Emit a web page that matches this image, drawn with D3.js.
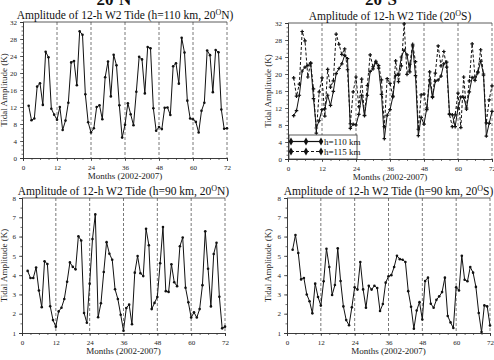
<!DOCTYPE html>
<html><head><meta charset="utf-8">
<script src="https://cdn.jsdelivr.net/npm/d3@7"></script>
<style>
body{margin:0;background:#fff;}
svg{display:block;font-family:"Liberation Serif","DejaVu Serif",serif;}
</style></head>
<body><svg id="c" width="494" height="360"></svg>
<script>
// months 2..72
const months = d3.range(2, 73);
const n110N = [12.3,8.9,9.3,16.8,17.6,12.5,25.0,23.7,11.6,10.2,9.0,12.0,6.6,8.8,13.0,22.5,22.8,17.1,29.8,29.0,15.0,8.4,6.0,7.0,12.0,12.4,9.1,19.0,22.7,14.5,24.3,21.8,12.4,4.8,7.8,12.9,10.3,7.7,15.6,23.8,23.2,15.2,26.1,25.8,11.7,6.4,7.3,6.8,11.8,11.9,10.1,21.6,22.3,17.5,28.3,24.8,13.5,9.3,9.1,8.5,6.0,11.1,13.0,25.3,24.2,15.5,25.4,24.9,11.4,6.9,7.0];
const s110S = [10.2,11.4,15.0,20.7,21.6,22.0,22.5,14.2,7.3,9.0,11.6,11.8,15.0,12.6,15.9,20.1,21.3,22.4,24.4,23.6,7.2,8.2,8.0,10.5,15.0,10.2,15.0,20.6,21.2,22.8,21.4,15.2,4.8,10.3,11.6,14.6,19.7,19.8,24.0,25.6,24.5,20.5,26.6,19.6,5.5,9.8,8.2,12.0,18.6,14.5,18.3,18.6,19.5,22.4,22.8,10.6,10.4,7.6,12.0,14.6,14.5,12.0,15.8,19.2,18.5,20.3,23.0,20.0,5.4,8.4,11.2];
const s115S = [19.1,14.8,17.6,30.0,27.8,19.3,22.6,16.5,6.1,15.8,19.1,10.1,21.1,16.9,18.4,29.4,27.0,24.6,25.9,21.0,8.3,15.8,19.3,12.3,18.8,10.3,17.3,24.5,21.7,23.0,22.0,18.6,7.6,18.9,17.8,14.8,23.1,18.2,21.9,31.8,19.9,22.3,27.0,22.9,7.0,15.1,15.3,11.6,20.5,14.7,20.2,26.6,21.9,25.3,21.6,10.5,7.6,10.4,15.5,7.4,19.3,11.7,18.4,27.1,19.3,20.5,25.7,19.7,8.5,13.9,17.2];
const n90N = [4.22,3.85,3.85,4.40,3.20,2.34,4.72,4.58,2.39,1.67,1.33,2.12,2.31,2.76,3.66,4.66,4.43,4.30,6.02,5.80,2.04,1.53,3.56,5.87,7.15,1.82,2.54,4.16,5.71,5.11,4.80,3.27,2.76,1.95,1.12,2.30,2.47,1.45,4.13,4.99,4.10,3.95,6.40,5.55,2.24,2.56,2.87,4.62,6.50,3.17,3.13,4.56,3.63,3.43,5.50,5.95,3.35,2.59,1.80,2.07,1.80,2.24,3.48,6.27,4.33,2.38,5.10,5.68,2.88,1.24,1.33];
const s90S = [5.32,6.08,5.15,3.78,3.85,3.00,2.65,2.02,3.56,2.87,2.42,3.68,5.37,4.42,2.97,3.49,5.39,3.70,2.38,1.67,1.40,2.33,3.37,3.25,4.68,3.26,2.31,3.45,3.25,3.45,3.33,2.14,2.50,3.61,3.94,4.00,4.42,5.00,4.83,4.80,4.68,3.17,2.36,1.22,2.17,2.60,1.70,3.70,3.87,2.52,2.31,2.72,2.90,3.12,3.87,1.88,1.55,1.26,3.37,3.20,5.00,3.76,3.68,4.42,4.13,3.39,2.04,1.05,2.43,2.38,1.39];
const xTicks = [0,12,24,36,48,60,72];
const yTicksTop = [0,4,8,12,16,20,24,28,32];
const yTicksBot = [1,2,3,4,5,6,7,8];
const legendLabels = ["h=110 km","h=115 km"];

const svg = d3.select("#c");

function panel(o){
  const g = svg.append("g");
  const x = d3.scaleLinear().domain([0,72]).range([o.l,o.r]);
  const y = d3.scaleLinear().domain(o.yd).range([o.b,o.t]);
  [12,24,36,48,60,72].forEach(v=>{
    g.append("line").attr("x1",x(v)).attr("x2",x(v)).attr("y1",o.t).attr("y2",o.b)
      .attr("stroke","#555").attr("stroke-width",0.8).attr("stroke-dasharray","3,2");
  });
  g.append("line").attr("x1",o.l).attr("x2",o.r).attr("y1",o.t).attr("y2",o.t).attr("stroke","#333").attr("stroke-width",0.8);
  const xa = d3.axisBottom(x).tickValues(xTicks).tickSize(3).tickFormat(d3.format("d"));
  const xm = d3.axisBottom(x).tickValues(d3.range(0,73,3)).tickSize(2).tickFormat("");
  const ya = d3.axisLeft(y).tickValues(o.yt).tickSize(3).tickFormat(d3.format("d"));
  const ym = d3.axisLeft(y).tickValues(d3.range(o.yd[0],o.yd[1]+0.001,o.ym)).tickSize(1.5).tickFormat("");
  [[xm,"b"],[xa,"b"],[ym,"l"],[ya,"l"]].forEach(([ax,s])=>{
    const a = g.append("g").attr("transform", s==="b"?`translate(0,${o.b})`:`translate(${o.l},0)`).call(ax);
    a.attr("font-family",null);
    a.selectAll("path").attr("stroke","#333").attr("stroke-width",0.8);
    a.selectAll("line").attr("stroke","#333").attr("stroke-width",0.7);
    a.selectAll("text").attr("font-family","Liberation Serif").attr("font-size",7).attr("fill","#222");
    if(s==="b") a.selectAll("text").attr("y",5).attr("dy","0.95em");
  });
  o.series.forEach(sr=>{
    const line = d3.line().x((d,i)=>x(months[i])).y(d=>y(d));
    g.append("path").datum(sr.v).attr("d",line).attr("fill","none").attr("stroke","#111")
      .attr("stroke-width",1).attr("stroke-dasharray",sr.dash||null);
    if(sr.mk==="star"){
      g.selectAll(null).data(sr.v).enter().append("path")
        .attr("d",d3.symbol().type(d3.symbolCross).size(7))
        .attr("transform",(d,i)=>`translate(${x(months[i])},${y(d)})`).attr("fill","#111");
    } else {
      g.selectAll(null).data(sr.v).enter().append("circle")
        .attr("cx",(d,i)=>x(months[i])).attr("cy",d=>y(d)).attr("r",1.3).attr("fill","#111");
    }
  });
  const t = g.append("text").attr("x",(o.l+o.r)/2).attr("y",o.t-3).attr("text-anchor","middle")
    .attr("font-size",11.5).attr("fill","#111");
  t.append("tspan").text(o.title[0]);
  t.append("tspan").attr("font-size",8).attr("dy",-4).text("O");
  t.append("tspan").attr("dy",4).text(o.title[1]);
  g.append("text").attr("x",(o.l+o.r)/2).attr("y",o.b+20.5).attr("text-anchor","middle")
    .attr("font-size",9).attr("fill","#222").text("Months (2002-2007)");
  g.append("text").attr("transform",`translate(${o.yl},${(o.t+o.b)/2}) rotate(-90)`)
    .attr("text-anchor","middle").attr("font-size",9).attr("fill","#222").text("Tidal Amplitude (K)");
  return {x,y,g};
}

panel({l:23,r:227,t:22,b:158,yd:[0,32],yt:yTicksTop,ym:1,yl:7,
  title:["Amplitude of 12-h W2 Tide (h=110 km, 20","N)"],series:[{v:n110N}]});
panel({l:288,r:492,t:23,b:159,yd:[0,32],yt:yTicksTop,ym:1,yl:271,
  title:["Amplitude of 12-h W2 Tide (20","S)"],series:[{v:s110S,mk:"star"},{v:s115S,mk:"star",dash:"3,2"}]});
panel({l:22,r:225,t:198,b:333,yd:[1,8],yt:yTicksBot,ym:0.5,yl:7,
  title:["Amplitude of 12-h W2 Tide (h=90 km, 20","N)"],series:[{v:n90N}]});
panel({l:287,r:490,t:198,b:333,yd:[1,8],yt:yTicksBot,ym:0.5,yl:271,
  title:["Amplitude of 12-h W2 Tide (h=90 km, 20","S)"],series:[{v:s90S}]});

const lg = svg.append("g");
lg.append("rect").attr("x",289).attr("y",135).attr("width",68).attr("height",24)
  .attr("fill","#fff").attr("stroke","#333").attr("stroke-width",0.8);
legendLabels.forEach((lab,i)=>{
  const yy = 141.5 + i*10;
  lg.append("line").attr("x1",291).attr("x2",321).attr("y1",yy).attr("y2",yy)
    .attr("stroke","#111").attr("stroke-width",1.2).attr("stroke-dasharray",i?"3,2":null);
  [291,306,321].forEach(xx=>lg.append("path").attr("d",d3.symbol().type(d3.symbolDiamond).size(18))
    .attr("transform",`translate(${xx},${yy})`).attr("fill","#111"));
  lg.append("text").attr("x",324).attr("y",yy+3).attr("font-size",9).attr("fill","#111").text(lab);
});

[["20","N",114],["20","S",381]].forEach(([a,b,cx])=>{
  const t = svg.append("text").attr("x",cx).attr("y",5).attr("text-anchor","middle")
    .attr("font-size",17).attr("font-weight","bold").attr("fill","#111");
  t.append("tspan").text(a);
  t.append("tspan").attr("font-size",11).attr("dy",-6).text("o");
  t.append("tspan").attr("dy",6).text(b);
});
</script></body></html>
